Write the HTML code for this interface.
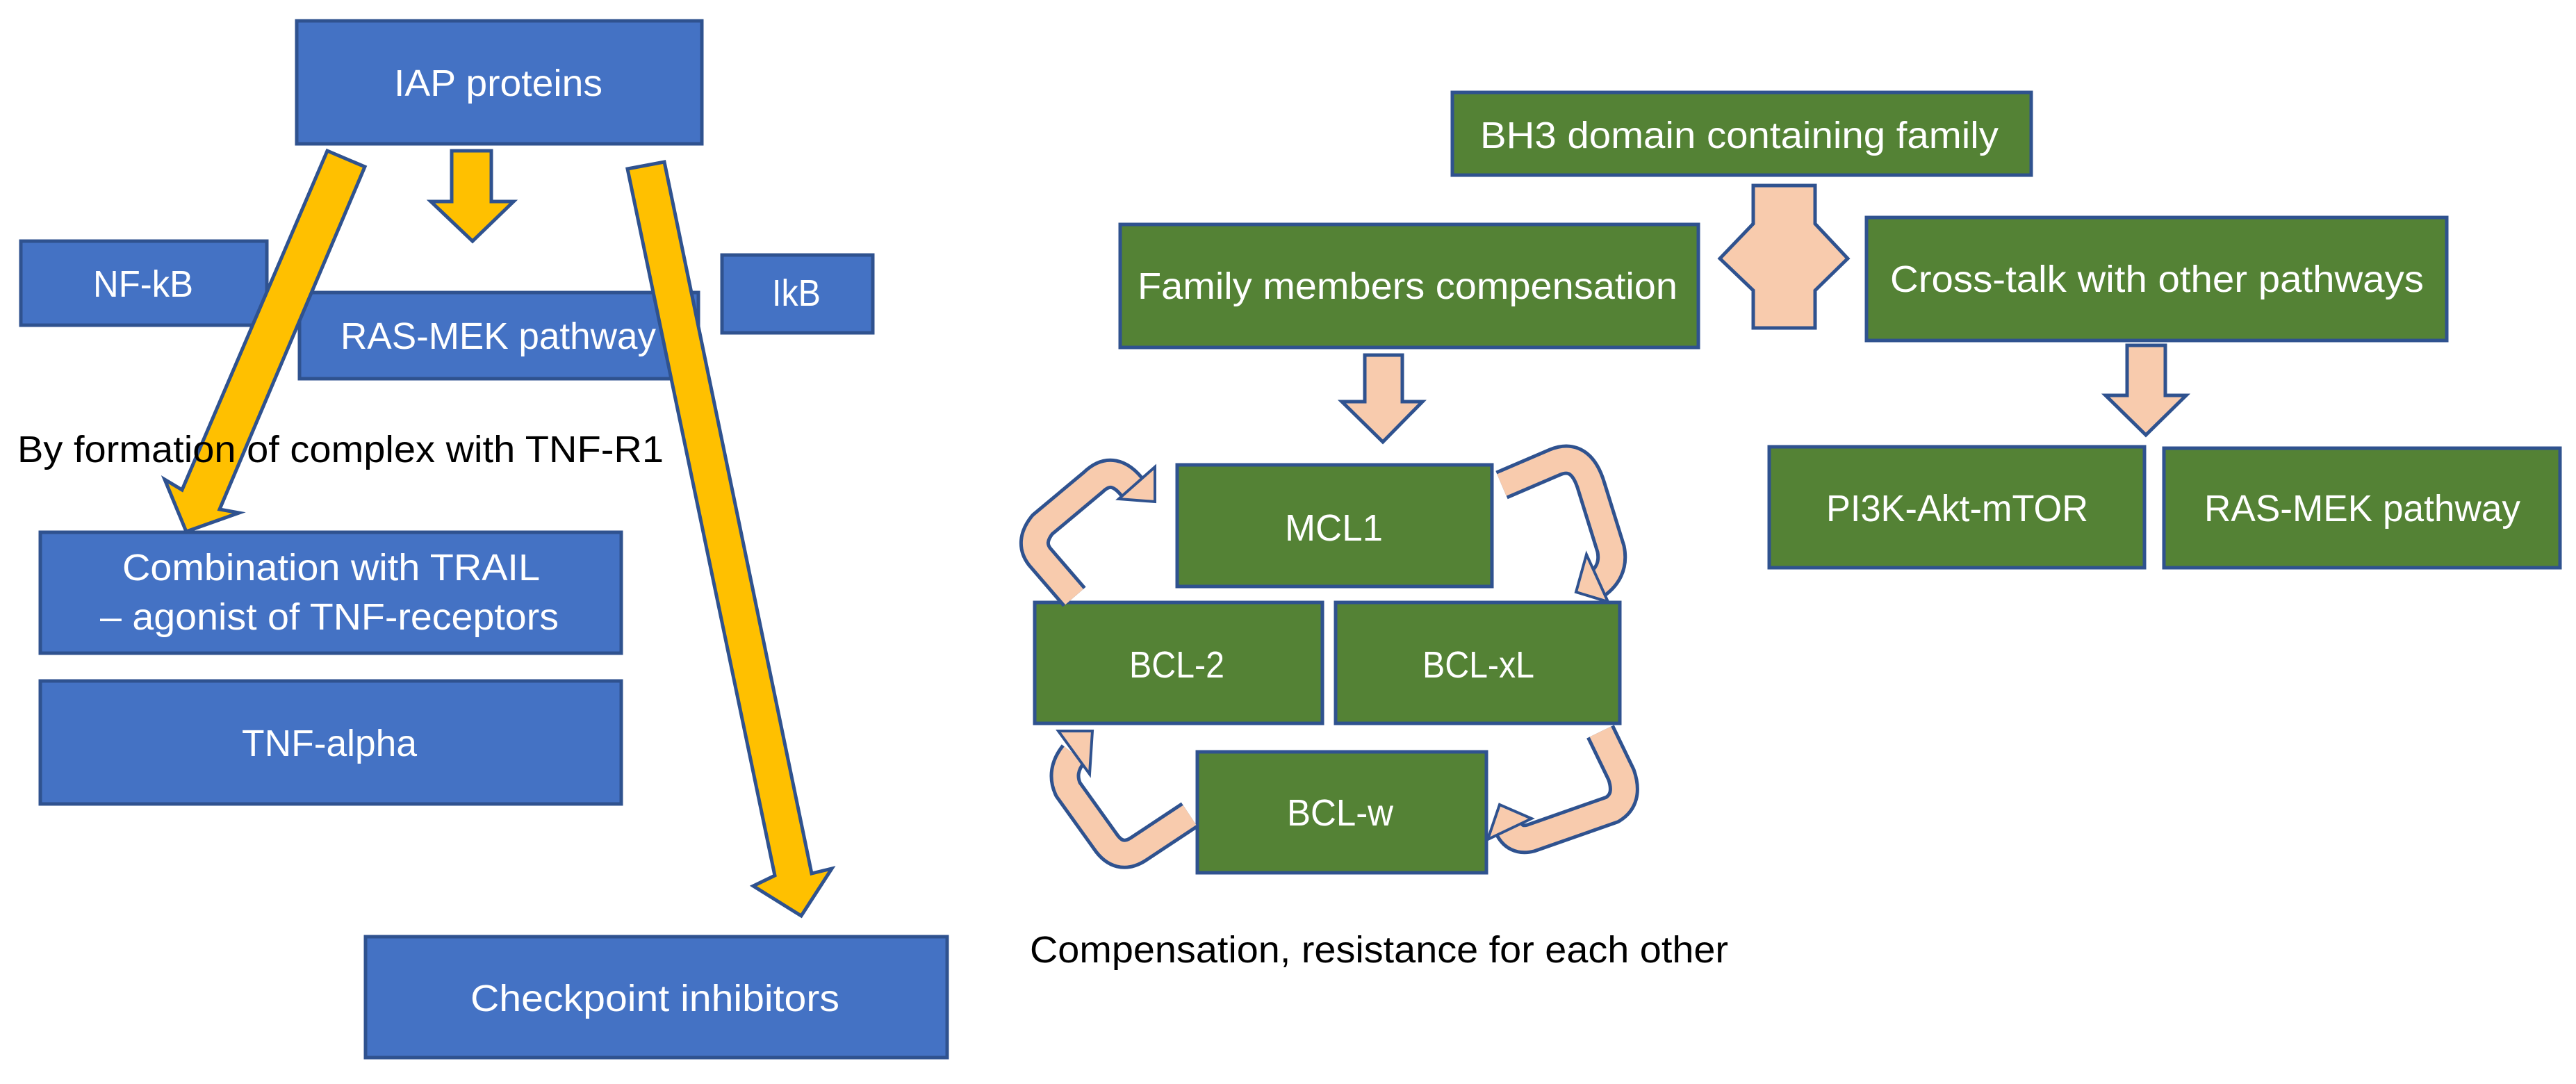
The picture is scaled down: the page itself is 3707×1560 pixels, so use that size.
<!DOCTYPE html>
<html><head><meta charset="utf-8"><style>
html,body{margin:0;padding:0;background:#fff;width:3707px;height:1560px;overflow:hidden}
svg{display:block}
text{font-family:"Liberation Sans",sans-serif;font-size:54px}
.w{fill:#fff}
</style></head><body>
<svg width="3707" height="1560" viewBox="0 0 3707 1560" xmlns="http://www.w3.org/2000/svg">
<g stroke="#2F528F" stroke-width="5">
<rect x="427" y="30" width="583" height="177" fill="#4472C4"/>
<rect x="30" y="347" width="354" height="121" fill="#4472C4"/>
<rect x="431" y="421" width="574" height="124" fill="#4472C4"/>
<rect x="1039" y="367" width="217" height="112" fill="#4472C4"/>
<rect x="58" y="766" width="836" height="174" fill="#4472C4"/>
<rect x="58" y="980" width="836" height="177" fill="#4472C4"/>
<rect x="526" y="1348" width="837" height="174" fill="#4472C4"/>
<polygon points="650,217 707,217 707,290 739,290 680,347 620,290 650,290" fill="#FFC000"/>
<polygon points="471,217 525,240 316,733 344,738 268,765 237,690 262,705" fill="#FFC000"/>
<polygon points="903,243 956,233 1168,1257 1197,1250 1153,1318 1084,1275 1115,1260" fill="#FFC000"/>
<rect x="2090" y="133" width="833" height="119" fill="#548235"/>
<rect x="1612" y="323" width="832" height="177" fill="#548235"/>
<rect x="2686" y="313" width="835" height="177" fill="#548235"/>
<rect x="2546" y="643" width="540" height="174" fill="#548235"/>
<rect x="3114" y="645" width="570" height="172" fill="#548235"/>
<rect x="1694" y="669" width="453" height="175" fill="#548235"/>
<rect x="1489" y="867" width="414" height="174" fill="#548235"/>
<rect x="1922" y="867" width="409" height="174" fill="#548235"/>
<rect x="1723" y="1082" width="416" height="174" fill="#548235"/>
<polygon points="2523,267 2612,267 2612,322 2659,372 2612,418 2612,472 2523,472 2523,418 2475,372 2523,322" fill="#F8CBAD"/>
<polygon points="1964,511 2018,511 2018,578 2047,578 1990,636 1931,578 1964,578" fill="#F8CBAD"/>
<polygon points="3061,497 3116,497 3116,569 3146,569 3088,626 3030,569 3061,569" fill="#F8CBAD"/>
</g>
<g fill="none" stroke-linejoin="round">
<g stroke="#2F528F" stroke-width="44">
<path d="M1546,859 L1496,801 Q1480,780 1500,755 L1573,694 Q1603,665 1632,705"/>
<path d="M2161,698 L2238,665 Q2275,650 2290,700 L2318,790 Q2325,825 2292,845"/>
<path d="M2303,1053 L2333,1115 Q2345,1150 2320,1165 L2203,1206 Q2180,1212 2170,1190"/>
<path d="M1712,1173 L1638,1222 Q1610,1240 1590,1210 L1537,1136 Q1525,1110 1545,1085"/>
</g>
<g stroke="#F8CBAD" stroke-width="34">
<path d="M1546,859 L1496,801 Q1480,780 1500,755 L1573,694 Q1603,665 1632,705"/>
<path d="M2161,698 L2238,665 Q2275,650 2290,700 L2318,790 Q2325,825 2292,845"/>
<path d="M2303,1053 L2333,1115 Q2345,1150 2320,1165 L2203,1206 Q2180,1212 2170,1190"/>
<path d="M1712,1173 L1638,1222 Q1610,1240 1590,1210 L1537,1136 Q1525,1110 1545,1085"/>
</g>
</g>
<g fill="#F8CBAD" stroke="#2F528F" stroke-width="4">
<polygon points="1662,672 1662,722 1610,718"/>
<polygon points="2283,798 2268,852 2314,866"/>
<polygon points="2158,1158 2204,1178 2141,1208"/>
<polygon points="1523,1052 1572,1052 1568,1114"/>
</g>
<text class="w" x="567" y="138" textLength="300" lengthAdjust="spacingAndGlyphs">IAP proteins</text>
<text class="w" x="134" y="427" textLength="144" lengthAdjust="spacingAndGlyphs">NF-kB</text>
<text class="w" x="490" y="502" textLength="454" lengthAdjust="spacingAndGlyphs">RAS-MEK pathway</text>
<text class="w" x="1111" y="440" textLength="70" lengthAdjust="spacingAndGlyphs">IkB</text>
<text x="25" y="665" textLength="930" lengthAdjust="spacingAndGlyphs">By formation of complex with TNF-R1</text>
<text class="w" x="176" y="835" textLength="601" lengthAdjust="spacingAndGlyphs">Combination with TRAIL</text>
<text class="w" x="144" y="906" textLength="660" lengthAdjust="spacingAndGlyphs">– agonist of TNF-receptors</text>
<text class="w" x="348" y="1088" textLength="252" lengthAdjust="spacingAndGlyphs">TNF-alpha</text>
<text class="w" x="677" y="1455" textLength="531" lengthAdjust="spacingAndGlyphs">Checkpoint inhibitors</text>
<text class="w" x="2130" y="213" textLength="746" lengthAdjust="spacingAndGlyphs">BH3 domain containing family</text>
<text class="w" x="1637" y="430" textLength="777" lengthAdjust="spacingAndGlyphs">Family members compensation</text>
<text class="w" x="2720" y="420" textLength="768" lengthAdjust="spacingAndGlyphs">Cross-talk with other pathways</text>
<text class="w" x="2628" y="750" textLength="377" lengthAdjust="spacingAndGlyphs">PI3K-Akt-mTOR</text>
<text class="w" x="3172" y="750" textLength="455" lengthAdjust="spacingAndGlyphs">RAS-MEK pathway</text>
<text class="w" x="1849" y="778" textLength="141" lengthAdjust="spacingAndGlyphs">MCL1</text>
<text class="w" x="1625" y="975" textLength="137" lengthAdjust="spacingAndGlyphs">BCL-2</text>
<text class="w" x="2047" y="975" textLength="161" lengthAdjust="spacingAndGlyphs">BCL-xL</text>
<text class="w" x="1852" y="1188" textLength="153" lengthAdjust="spacingAndGlyphs">BCL-w</text>
<text x="1482" y="1385" textLength="1005" lengthAdjust="spacingAndGlyphs">Compensation, resistance for each other</text>
</svg>
</body></html>
